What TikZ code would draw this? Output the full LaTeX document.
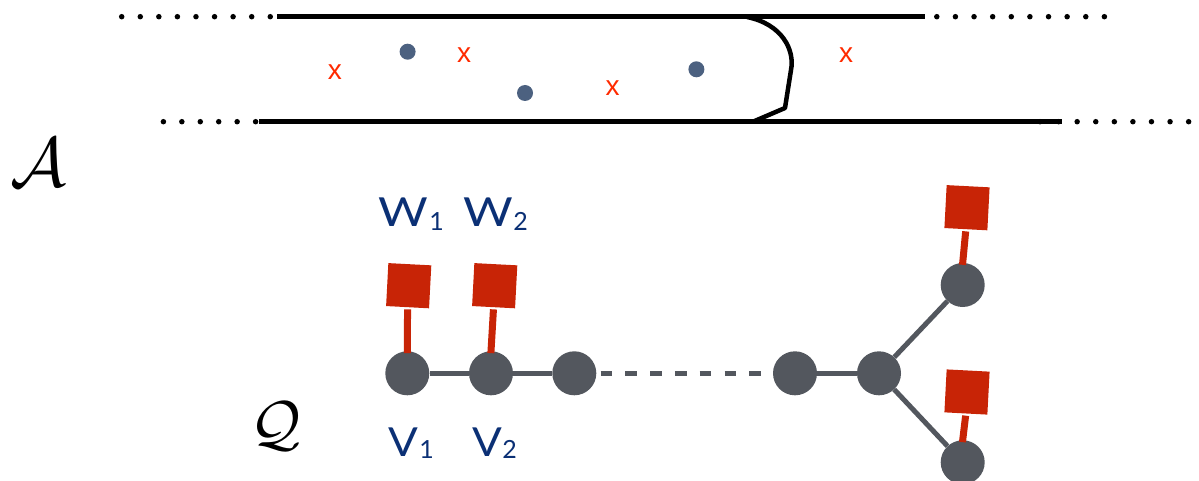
\documentclass[tikz,border=0pt]{standalone}
\usepackage{fontspec}
\newfontfamily\labelfont{Lato}
\newfontfamily\wfont[FakeStretch=1.2]{Lato}
\newfontfamily\vfont[FakeStretch=1.1]{Lato}
\newfontfamily\xfont{Liberation Sans}
\definecolor{vgray}{HTML}{53575E}
\definecolor{sqred}{HTML}{C82406}
\definecolor{ptblue}{HTML}{4C6180}
\definecolor{xred}{HTML}{FF2A00}
\definecolor{navy}{HTML}{0B3075}
\begin{document}
\begin{tikzpicture}[x=1pt,y=-1pt,
  rail/.style={line width=5pt,black},
  raildot/.style={circle,fill=black,minimum size=5.5pt,inner sep=0pt},
  bluept/.style={circle,fill=ptblue,minimum size=16pt,inner sep=0pt},
  xmark/.style={text=xred,font=\xfont\fontsize{28}{28}\selectfont,inner sep=0pt},
  vert/.style={circle,fill=vgray,minimum size=44pt,inner sep=0pt},
  sqnode/.style={fill=sqred,minimum size=43pt,inner sep=0pt,rotate=-3},
  gedge/.style={vgray,line width=5pt},
  stem/.style={sqred,line width=7pt},
  wlbl/.style={text=navy,font=\wfont\fontsize{40}{40}\selectfont,inner sep=0pt,anchor=base west},
  vlbl/.style={text=navy,font=\vfont\fontsize{40}{40}\selectfont,inner sep=0pt,anchor=base west},
  sub/.style={text=navy,font=\labelfont\fontsize{25}{25}\selectfont,inner sep=0pt,anchor=base west}
]
\useasboundingbox (0,0) rectangle (1199,481);

% rails
\coordinate (tl) at (277,16.7);
\coordinate (tr) at (925,16.7);
\coordinate (bl) at (259,121.7);
\coordinate (br) at (1062,121.7);
\draw[rail] (tl) -- (tr);
\draw[rail] (bl) -- (br);
\foreach \i in {0,...,8} \node[raildot] at (121.7+18.57*\i,16.7) {};
\foreach \i in {0,...,9} \node[raildot] at (936.8+18.62*\i,16.7) {};
\foreach \i in {0,...,5} \node[raildot] at (163.4+18.44*\i,121.7) {};
\foreach \i in {0,...,8} \node[raildot] at (1040+18.58*\i,121.7) {};

% wall
\draw[line width=4.5pt,line join=round] (747,17) .. controls (782,24) and (795,50) .. (791,70) -- (785,108) -- (753,121.7);

% points
\node[bluept] (p1) at (407.6,51.7) {};
\node[bluept] (p2) at (525,93) {};
\node[bluept] (p3) at (696.4,69.3) {};
\node[xmark] (x1) at (334.9,72) {x};
\node[xmark] (x2) at (464.2,55.3) {x};
\node[xmark] (x3) at (612.6,88) {x};
\node[xmark] (x4) at (846,55.3) {x};

% calligraphic labels
\node[inner sep=0pt,scale=7] (A) at (38,163) {$\mathcal{A}$};
\node[inner sep=0pt,scale=6.2] (Q) at (276,426) {$\mathcal{Q}$};

% quiver
\node[vert] (v1) at (407.3,373.3) {};
\node[vert] (v2) at (491,373.3) {};
\node[vert] (v3) at (574.3,373.3) {};
\node[vert] (v4) at (795,373.3) {};
\node[vert] (v5) at (879,373.3) {};
\node[vert] (v6) at (962.7,285) {};
\node[vert] (v7) at (962.7,462.3) {};

\node[sqnode] (s1) at (408.7,285.7) {};
\node[sqnode] (s2) at (494.7,285.7) {};
\node[sqnode] (s3) at (967,207.7) {};
\node[sqnode] (s4) at (967,392) {};

\draw[gedge] (v1) -- (v2);
\draw[gedge] (v2) -- (v3);
\draw[gedge,dash pattern=on 11.7pt off 13.1pt,shorten <=4pt,shorten >=12pt] (v3) -- (v4);
\draw[gedge] (v4) -- (v5);
\draw[gedge] (v5) -- (v6);
\draw[gedge] (v5) -- (v7);

\draw[stem,shorten <=2pt,shorten >=-2pt] (s1.south) -- (v1.north);
\draw[stem,shorten <=2pt,shorten >=-2pt] (s2.south) -- (v2.north);
\draw[stem,shorten <=2pt,shorten >=-2pt] (s3.south) -- (v6.north);
\draw[stem,shorten <=2pt,shorten >=-2pt] (s4.south) -- (v7.north);

% labels
\node[wlbl] (W1) at (378,226.7) {W};
\node[sub] (W1s) at (W1.base east) [yshift=-4pt,xshift=1pt] {1};
\node[wlbl] (W2) at (463,226.7) {W};
\node[sub] (W2s) at (W2.base east) [yshift=-4pt,xshift=0pt] {2};
\node[vlbl] (V1) at (388,456.7) {V};
\node[sub] (V1s) at (V1.base east) [yshift=-2pt,xshift=1pt] {1};
\node[vlbl] (V2) at (472,456.7) {V};
\node[sub] (V2s) at (V2.base east) [yshift=-2pt,xshift=0pt] {2};
\end{tikzpicture}
\end{document}
